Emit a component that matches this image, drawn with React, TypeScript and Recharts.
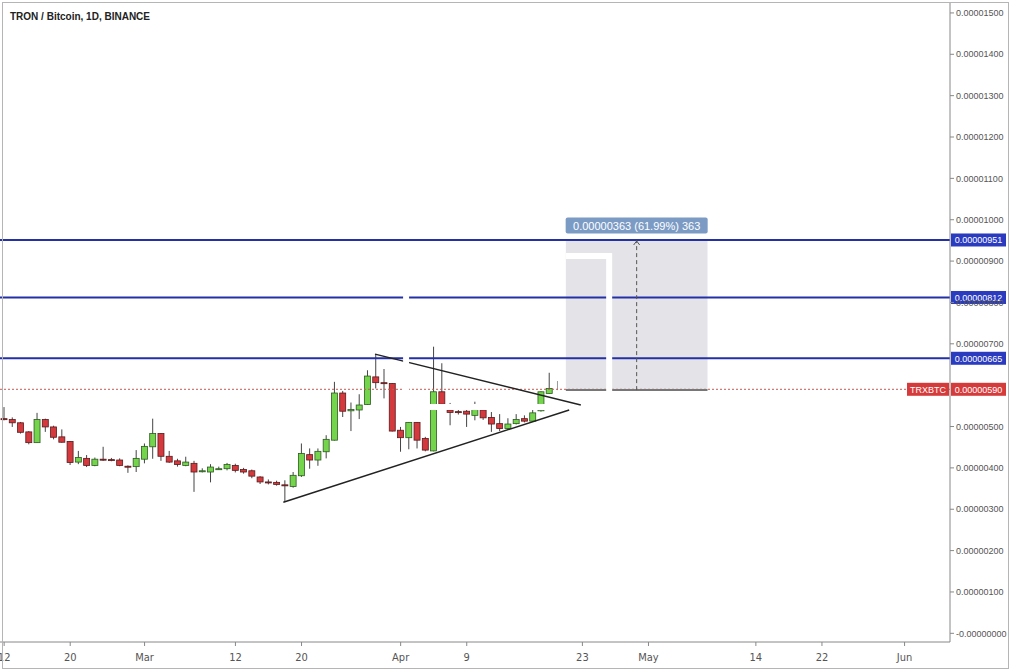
import React from 'react';
import { ComposedChart, Bar, XAxis, YAxis, ReferenceLine, ReferenceArea, ReferenceDot } from 'recharts';

// TRX/BTC daily candles, values in satoshi (1e-8 BTC), first candle 2018-02-12
const opens = [519, 517, 509, 487, 461, 517, 499, 475, 464, 414, 423, 406, 421, 420, 419, 404, 403,
  421, 451, 483, 428, 417, 406, 411, 391, 390, 397, 398, 406, 396, 393, 378, 366, 365, 359, 355, 381,
  432, 419, 439, 467, 581, 538, 540, 553, 620, 606, 604,
  491, 473, 510, 471, 441, 584, 540, 536, 537, 527, 540, 522, 507, 495, 507, 519, 513, 538, 580, 590];
const highs = [547, 522, 511, 489, 533, 519, 502, 493, 465, 441, 431, 425, 451, 424, 423, 406, 443,
  459, 519, 484, 441, 422, 427, 417, 399, 409, 403, 412, 410, 400, 396, 380, 372, 369, 370, 390, 459,
  447, 447, 479, 608, 586, 558, 578, 636, 674, 639, 605,
  499, 511, 511, 475, 693, 653, 557, 541, 540, 560, 541, 535, 530, 520, 530, 527, 544, 585, 630, 610];
const lows = [515, 499, 483, 457, 461, 487, 469, 461, 407, 409, 402, 404, 417, 416, 404, 388, 390,
  411, 422, 417, 412, 403, 404, 342, 389, 365, 395, 394, 389, 386, 375, 361, 360, 357, 318, 352, 378,
  398, 405, 423, 466, 523, 489, 518, 552, 592, 568, 488,
  439, 445, 447, 440, 440, 552, 503, 529, 499, 515, 516, 487, 489, 492, 505, 510, 511, 536, 579, 588];
const closes = [517, 509, 486, 461, 517, 499, 474, 462, 413, 425, 406, 421, 420, 418, 406, 402, 423,
  452, 483, 428, 414, 408, 414, 390, 393, 402, 398, 408, 394, 390, 380, 366, 365, 360, 357, 382, 435,
  419, 440, 469, 581, 537, 541, 552, 622, 606, 604, 489,
  473, 510, 467, 443, 584, 554, 534, 535, 530, 541, 521, 506, 495, 506, 517, 513, 533, 584, 592, 590];

const firstDay = Date.UTC(2018, 1, 12);
const dayCount = 115;
const days = Array.from({ length: dayCount }, (_, i) =>
  new Date(firstDay + i * 86400000).toISOString().slice(0, 10));

const xTicks = ['2018-02-12', '2018-02-20', '2018-03-01', '2018-03-12', '2018-03-20', '2018-04-01',
  '2018-04-09', '2018-04-23', '2018-05-01', '2018-05-14', '2018-05-22', '2018-06-01'];
const monthNames: Record<string, string> = { '03': 'Mar', '04': 'Apr', '05': 'May', '06': 'Jun' };
// 0.00000600 sits fully under the red price tag in the screenshot
const yTicks = [0, 100, 200, 300, 400, 500, 700, 800, 900, 1000, 1100, 1200, 1300, 1400, 1500];

const levels = [951, 812, 665];
const lastPrice = 590;
const measureFrom = 588;
const measureTo = 951;
const measureText = '0.00000363 (61.99%) 363';

// trend lines in [day index, value]
const lowerTrend = [[34, 317], [68.3, 540]];
const upperTrend = [[45, 675], [69.7, 552]];
const boxDays = [67.9, 84.9];
const arrowDay = 76.4;

// white streaks left in the screenshot: [x1, y1, x2, y2] in day index / value
const gaps = [
  [48.73, 576, 48.73, 842],
  [73.1, 583, 73.1, 919],
  [67.9, 912, 73.4, 912],
  [51.5, 547, 65.7, 547],
];

const rows = days.map((d, i) => ({ d, o: opens[i], h: highs[i], l: lows[i], c: closes[i] }));

const fmtPrice = (v: number) => (v === 0 ? '-0.00000000' : (v / 1e8).toFixed(8));
const fmtDay = (d: string) => {
  const [, m, dd] = d.split('-');
  return dd === '01' ? monthNames[m] : String(Number(dd));
};

const Candle = (props: any) => {
  const { x, width, payload } = props;
  if (payload == null || payload.o == null) return null;
  let { y, height } = props;
  if (height < 0) { y += height; height = -height; }
  const { o, h, l, c } = payload;
  const k = height / (h - l);
  const py = (v: number) => y + (h - v) * k;
  const cx = x + width / 2;
  const flat = o === c;
  const up = c > o;
  const top = py(Math.max(o, c));
  const bot = py(Math.min(o, c));
  return (
    <g>
      <line x1={cx} x2={cx} y1={y} y2={y + height} stroke={flat ? '#999' : '#444'} strokeWidth={1} />
      {!flat && (
        <rect x={x} y={top} width={width} height={Math.max(bot - top, 1)}
          fill={up ? '#74d44c' : '#d3393d'} stroke={up ? '#2c5a20' : '#5a1a1c'} strokeWidth={0.8} />
      )}
    </g>
  );
};

const PriceTag = (props: any) => {
  const { viewBox, text, fill, side } = props;
  if (!viewBox) return null;
  const x = viewBox.x + viewBox.width;
  const y = viewBox.y;
  return (
    <g>
      {side && (
        <g>
          <rect x={x - 43} y={y - 6.5} width={42} height={13} fill={fill} />
          <text x={x - 22} y={y + 3.3} textAnchor="middle" fill="#fff" fontSize={9}
            fontFamily="Liberation Sans, Arial, sans-serif">{side}</text>
        </g>
      )}
      <rect x={x + 1} y={y - 6.5} width={55} height={13} fill={fill} />
      <text x={x + 28.5} y={y + 3.3} textAnchor="middle" fill="#fff" fontSize={9}
        fontFamily="Liberation Sans, Arial, sans-serif">{text}</text>
    </g>
  );
};

const MeasureLabel = (props: any) => {
  const { cx, cy } = props;
  return (
    <g>
      <rect x={cx - 71} y={cy - 8} width={142} height={16} rx={2} fill="#7b9bc5" />
      <text x={cx} y={cy + 4} textAnchor="middle" fill="#fff" fontSize={11}
        fontFamily="Liberation Sans, Arial, sans-serif">{measureText}</text>
    </g>
  );
};

const ArrowHead = (props: any) => {
  const { cx, cy } = props;
  return <path d={`M${cx - 3},${cy + 5} L${cx},${cy + 1} L${cx + 3},${cy + 5}`} fill="none" stroke="#555" />;
};

export default function App() {
  return (
    <div style={{ position: 'absolute', left: 0, top: 0, width: 1010, height: 670, background: '#fff' }}>
      <ComposedChart width={1010} height={670} data={rows} margin={{ top: 3, right: 0, bottom: 0, left: 0 }} barSize={6}>
        <XAxis xAxisId="cat" dataKey="d" type="category" ticks={xTicks} interval={0} tickFormatter={fmtDay}
          height={28} tickSize={4} tickMargin={7} stroke="#888"
          tick={{ fill: '#555', fontSize: 11, fontFamily: "'Liberation Sans Narrow', 'DejaVu Sans Condensed', Arial, sans-serif" }} />
        <XAxis xAxisId="num" type="number" domain={[-0.5, dayCount - 0.5]} hide allowDataOverflow />
        <YAxis orientation="right" width={60} domain={[-21, 1524]} ticks={yTicks} interval={0}
          allowDataOverflow tickFormatter={fmtPrice} tickSize={4} tickMargin={2} stroke="#888"
          tick={{ fill: '#555', fontSize: 9, fontFamily: 'Liberation Sans, Arial, sans-serif' }} />

        <ReferenceArea xAxisId="num" x1={boxDays[0]} x2={boxDays[1]} y1={measureFrom} y2={measureTo}
          fill="#e4e4e8" fillOpacity={1} stroke="none" />

        {levels.map((v) => (
          <ReferenceLine key={v} xAxisId="cat" y={v} stroke="#2430a6" strokeWidth={2}
            label={(p: any) => <PriceTag {...p} text={fmtPrice(v)} fill="#2a3bbf" />} />
        ))}
        <ReferenceLine xAxisId="cat" y={lastPrice} stroke="#c25a55" strokeWidth={1} strokeDasharray="2 2"
          label={(p: any) => <PriceTag {...p} text={fmtPrice(lastPrice)} fill="#d63b3b" side="TRXBTC" />} />

        <Bar xAxisId="cat" dataKey={(r: any) => (r.o == null ? null : [r.l, r.h])} shape={<Candle />}
          isAnimationActive={false} />

        <ReferenceLine xAxisId="num" segment={[{ x: lowerTrend[0][0], y: lowerTrend[0][1] }, { x: lowerTrend[1][0], y: lowerTrend[1][1] }]}
          stroke="#222" strokeWidth={1.5} />
        <ReferenceLine xAxisId="num" segment={[{ x: upperTrend[0][0], y: upperTrend[0][1] }, { x: upperTrend[1][0], y: upperTrend[1][1] }]}
          stroke="#222" strokeWidth={1.5} />

        <ReferenceLine xAxisId="num" segment={[{ x: boxDays[0], y: measureFrom }, { x: boxDays[1], y: measureFrom }]}
          stroke="#777" strokeWidth={2} />
        <ReferenceLine xAxisId="num" segment={[{ x: arrowDay, y: measureFrom }, { x: arrowDay, y: measureTo }]}
          stroke="#555" strokeWidth={1} strokeDasharray="4 3" />

        {gaps.map((g, i) => (
          <ReferenceLine key={'gap' + i} xAxisId="num" segment={[{ x: g[0], y: g[1] }, { x: g[2], y: g[3] }]}
            stroke="#fff" strokeWidth={6} />
        ))}

        <ReferenceDot xAxisId="num" x={arrowDay} y={measureTo} shape={<ArrowHead />} />
        <ReferenceDot xAxisId="num" x={arrowDay} y={986} shape={<MeasureLabel />} />
      </ComposedChart>
      <div style={{ position: 'absolute', left: 2, top: 2, width: 1005, height: 665, border: '1px solid #b5b5b5', pointerEvents: 'none' }} />
      <div style={{ position: 'absolute', left: 10, top: 11, fontSize: 10, fontWeight: 'bold', color: '#222',
        fontFamily: 'Liberation Sans, Arial, sans-serif' }}>
        TRON / Bitcoin, 1D, BINANCE
      </div>
    </div>
  );
}
